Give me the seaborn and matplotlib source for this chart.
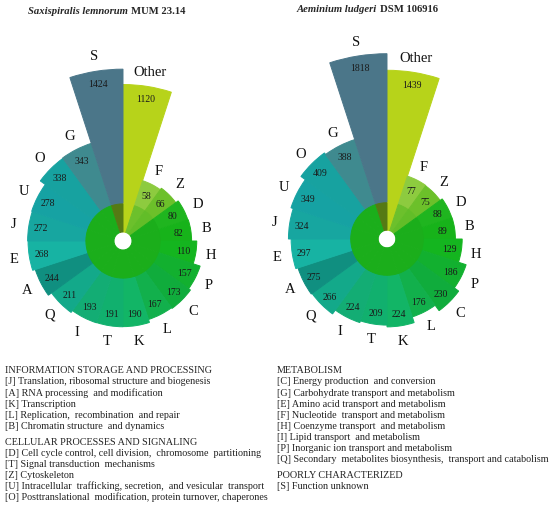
import numpy as np
import seaborn as sns
import matplotlib.pyplot as plt

# COG categories, clockwise from 12 o'clock
categories = ['Other', 'F', 'Z', 'D', 'B', 'H', 'P', 'C', 'L', 'K',
              'T', 'I', 'Q', 'A', 'E', 'J', 'U', 'O', 'G', 'S']
saxi_counts = [1120, 58, 66, 80, 82, 110, 157, 173, 167, 190,
               191, 193, 211, 244, 268, 272, 278, 338, 343, 1424]
aemi_counts = [1439, 77, 75, 88, 89, 129, 186, 230, 176, 224,
               209, 224, 266, 275, 297, 324, 349, 409, 388, 1818]

bar_colors = ['#b7d31a', '#8dcb3f', '#6cc02a', '#1fb51f', '#17b31a',
              '#14b51f', '#12b02f', '#10ac3c', '#12b04c', '#12b566',
              '#11b06e', '#13ad74', '#13a98a', '#108f80', '#17b3a3',
              '#17a6a0', '#16a2a3', '#17a2a0', '#3f8a8f', '#4b7689']
inner_colors = ['#b7d31a', '#6cc02c', '#62bd28'] + ['#1bae1b'] * 16 + ['#557a14']

legend_left = [
    ('INFORMATION STORAGE AND PROCESSING', [
        '[J] Translation, ribosomal structure and biogenesis',
        '[A] RNA processing  and modification',
        '[K] Transcription',
        '[L] Replication,  recombination  and repair',
        '[B] Chromatin structure  and dynamics']),
    ('CELLULAR PROCESSES AND SIGNALING', [
        '[D] Cell cycle control, cell division,  chromosome  partitioning',
        '[T] Signal transduction  mechanisms',
        '[Z] Cytoskeleton',
        '[U] Intracellular  trafficking, secretion,  and vesicular  transport',
        '[O] Posttranslational  modification, protein turnover, chaperones']),
]
legend_right = [
    ('METABOLISM', [
        '[C] Energy production  and conversion',
        '[G] Carbohydrate transport and metabolism',
        '[E] Amino acid transport and metabolism',
        '[F] Nucleotide  transport and metabolism',
        '[H] Coenzyme transport  and metabolism',
        '[I] Lipid transport  and metabolism',
        '[P] Inorganic ion transport and metabolism',
        '[Q] Secondary  metabolites biosynthesis,  transport and catabolism']),
    ('POORLY CHARACTERIZED', [
        '[S] Function unknown']),
]

sns.set_style('white')
plt.rcParams['font.family'] = ['Liberation Serif', 'DejaVu Serif']

W, H = 550, 510
fig = plt.figure(figsize=(5.5, 5.1), dpi=100)

RMAX = 58.0
BASE = 10.0
HOLE = 2.5


def rose(cx, cy, px_per_unit, counts):
    rad = RMAX * px_per_unit
    ax = fig.add_axes([(cx - rad) / W, 1 - (cy + rad) / H, 2 * rad / W, 2 * rad / H],
                      projection='polar')
    ax.set_theta_zero_location('N')
    ax.set_theta_direction(-1)
    n = len(categories)
    width = 2 * np.pi / n
    theta = (np.arange(n) + 0.5) * width
    heights = np.sqrt(np.array(counts, dtype=float))
    # inner ring first, bars over it (edges painted to hide seams)
    ax.bar(theta, BASE - HOLE + 0.3, width=width, bottom=HOLE, color=inner_colors,
           edgecolor=inner_colors, linewidth=0.7, zorder=2)
    ax.bar(theta, heights, width=width, bottom=BASE, color=bar_colors,
           edgecolor=bar_colors, linewidth=0.7, zorder=1)
    for t, h, c, cat in zip(theta, heights, counts, categories):
        r_end = BASE + h
        ax.text(t, r_end - 3.4, str(c), ha='center', va='center',
                fontsize=7, color='#1a1a1a', zorder=3)
        ax.text(t, r_end + 4.3, cat, ha='center', va='center',
                fontsize=10.5, color='#111111')
    ax.set_ylim(0, RMAX)
    ax.set_axis_off()
    return ax


rose(123, 242, 3.6, saxi_counts)
rose(387, 240, 3.52, aemi_counts)

# titles
fig.text(128 / W, 1 - 11 / H, 'Saxispiralis lemnorum', ha='right', va='center',
         fontsize=7.7, fontweight='bold', fontstyle='italic')
fig.text(131 / W, 1 - 11 / H, 'MUM 23.14', ha='left', va='center',
         fontsize=7.7, fontweight='bold')
fig.text(377 / W, 1 - 10 / H, 'Aeminium ludgeri', ha='right', va='center',
         fontsize=7.7, fontweight='bold', fontstyle='italic')
fig.text(380 / W, 1 - 10 / H, 'DSM 106916', ha='left', va='center',
         fontsize=7.7, fontweight='bold')


def legend_block(x, y, groups):
    for head, lines in groups:
        fig.text(x / W, 1 - y / H, head, ha='left', va='center',
                 fontsize=7.3, color='#222222')
        y += 11
        for ln in lines:
            fig.text(x / W, 1 - y / H, ln, ha='left', va='center',
                     fontsize=7.3, color='#222222')
            y += 11.1
        y += 4.5


legend_block(5, 371, legend_left)
legend_block(277, 371, legend_right)

fig.savefig('out.png', dpi=100, facecolor='white')
